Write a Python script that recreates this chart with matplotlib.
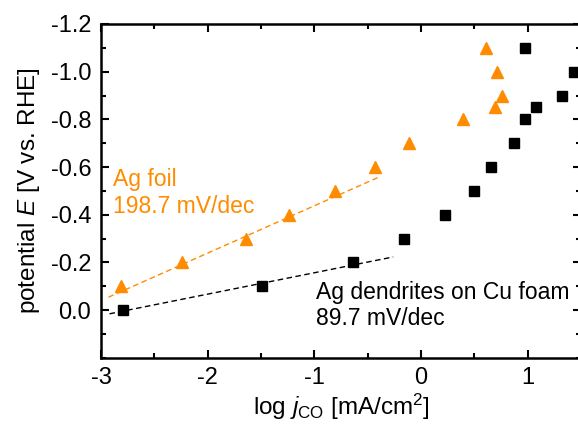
import numpy as np
import matplotlib.pyplot as plt
from matplotlib.ticker import MultipleLocator, FixedLocator

plt.rcParams['font.family'] = ['Liberation Sans', 'DejaVu Sans']
plt.rcParams['axes.unicode_minus'] = False
plt.rcParams['mathtext.fontset'] = 'custom'
plt.rcParams['mathtext.rm'] = 'Liberation Sans'
plt.rcParams['mathtext.it'] = 'Liberation Sans:italic'

# Tafel data: log j_CO vs. potential
dend_logj = [-2.79, -1.49, -0.635, -0.16, 0.224, 0.499, 0.66, 0.87, 0.977, 1.083, 1.318, 1.433, 0.98]
dend_E = [0.0, -0.1, -0.2, -0.3, -0.4, -0.5, -0.6, -0.7, -0.8, -0.85, -0.9, -1.0, -1.1]

foil_logj = [-2.81, -2.24, -1.64, -1.24, -0.81, -0.43, -0.11, 0.393, 0.69, 0.76, 0.714, 0.61]
foil_E = [-0.1, -0.2, -0.3, -0.4, -0.5, -0.6, -0.7, -0.8, -0.85, -0.9, -1.0, -1.1]

# Tafel slopes (V/dec) and fit ranges
foil_slope = 0.1987
foil_icpt = -0.636
foil_range = [-2.93, -0.40]
dend_slope = 0.0897
dend_icpt = -0.246
dend_range = [-2.92, -0.26]

yticks = [-1.2, -1.0, -0.8, -0.6, -0.4, -0.2, 0.0]

orange = '#FF8C00'

fig = plt.figure(figsize=(5.78, 4.24), dpi=100)
ax = fig.add_axes([0.1747, 0.1564, 0.8304, 0.787])

xf = np.array(foil_range)
ax.plot(xf, foil_icpt - foil_slope * xf, '--', color=orange, lw=1.0, dashes=(4, 2.5))
xd = np.array(dend_range)
ax.plot(xd, dend_icpt - dend_slope * xd, '--', color='black', lw=1.0, dashes=(4, 2.5))

ax.plot(dend_logj, dend_E, 's', color='black', ms=7, mec='black')
ax.plot(foil_logj, foil_E, '^', color=orange, ms=9, mec=orange)

ax.set_xlim(-3, 1.5)
ax.set_ylim(0.2, -1.2)
ax.xaxis.set_major_locator(MultipleLocator(1))
ax.xaxis.set_minor_locator(MultipleLocator(0.5))
ax.yaxis.set_major_locator(FixedLocator(yticks))
ax.yaxis.set_minor_locator(MultipleLocator(0.1))
ax.yaxis.set_major_formatter(lambda v, p: f'{v:.1f}' if abs(v) > 1e-9 else '0.0')

ax.tick_params(which='both', direction='in', top=True, right=True, width=1.5,
               labelsize=17, pad=7)
ax.tick_params(which='major', length=6)
ax.tick_params(which='minor', length=3.5)
for s in ax.spines.values():
    s.set_linewidth(1.8)

ax.set_xlabel(r'log $j_{\mathrm{CO}}$ [mA/cm$^2$]', fontsize=17.5, labelpad=2)
ax.set_ylabel(r'potential $E$ [V vs. RHE]', fontsize=17.5, labelpad=6)

ax.text(-2.89, -0.595, 'Ag foil\n198.7 mV/dec', color=orange, fontsize=16.5,
        va='top', ha='left', linespacing=1.2)
ax.text(-0.98, 0.085, 'Ag dendrites on Cu foam\n89.7 mV/dec', color='black', fontsize=16.5,
        va='bottom', ha='left', linespacing=1.2)

fig.savefig('out.png', dpi=100)
